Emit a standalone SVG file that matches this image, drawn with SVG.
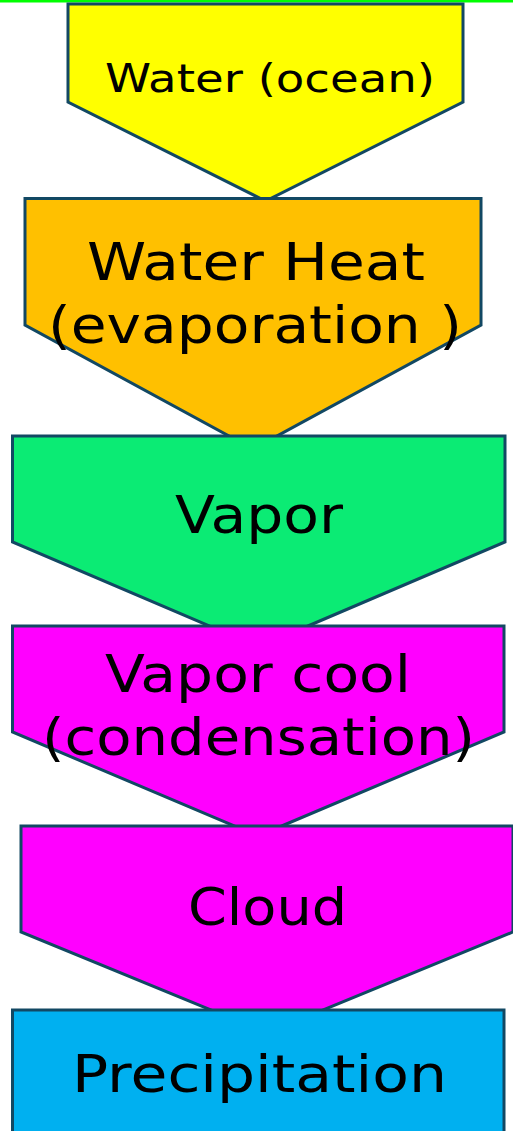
<svg xmlns="http://www.w3.org/2000/svg" width="513" height="1131" viewBox="0 0 513 1131">
<style>
.s{stroke:#124863;stroke-width:3;stroke-linejoin:miter}
.t{font-family:"DejaVu Sans","Noto Sans",sans-serif;fill:#000;text-anchor:middle;font-weight:normal}
</style>
<rect x="0" y="0" width="513" height="1131" fill="#ffffff"/>
<line x1="0" y1="1" x2="513" y2="1" stroke="#00ff00" stroke-width="3"/>
<g id="connectors"></g>
<g id="node-water">
<polygon class="s" fill="#ffff00" points="68,4 463,4 463,102 265.5,201 68,102"/>
<text class="t" x="270" y="92" font-size="39" textLength="330" lengthAdjust="spacingAndGlyphs">Water (ocean)</text>
</g>
<g id="node-heat">
<polygon class="s" fill="#ffc000" points="25,198.5 481,198.5 481,325 253,449 25,325"/>
<text class="t" x="256" y="280" font-size="51" textLength="338" lengthAdjust="spacingAndGlyphs">Water Heat</text>
<text class="t" x="255" y="343" font-size="51" textLength="414" lengthAdjust="spacingAndGlyphs">(evaporation )</text>
</g>
<g id="node-vapor">
<polygon class="s" fill="#0beb74" points="12.5,436 505,436 505,542 258.7,647 12.5,542"/>
<text class="t" x="259" y="533" font-size="51" textLength="168" lengthAdjust="spacingAndGlyphs">Vapor</text>
</g>
<g id="node-cool">
<polygon class="s" fill="#ff00ff" points="12.5,626 504,626 504,732 258,836 12.5,732"/>
<text class="t" x="258" y="692" font-size="51" textLength="306" lengthAdjust="spacingAndGlyphs">Vapor cool</text>
<text class="t" x="258.5" y="755" font-size="51" textLength="433" lengthAdjust="spacingAndGlyphs">(condensation)</text>
</g>
<g id="node-cloud">
<polygon class="s" fill="#ff00ff" points="21,826 513,826 513,932 267,1033 21,932"/>
<text class="t" x="267.5" y="925" font-size="51" textLength="159" lengthAdjust="spacingAndGlyphs">Cloud</text>
</g>
<g id="node-precip">
<rect class="s" fill="#00b0f0" x="12.5" y="1010" width="491.5" height="130"/>
<text class="t" x="259.5" y="1092" font-size="51" textLength="375" lengthAdjust="spacingAndGlyphs">Precipitation</text>
</g>
</svg>
